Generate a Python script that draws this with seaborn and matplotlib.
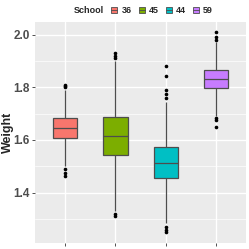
import pandas as pd
import seaborn as sns
import matplotlib.pyplot as plt
from matplotlib.patches import Patch
from matplotlib.lines import Line2D
from matplotlib.legend_handler import HandlerTuple

# values per school (sorted), chosen to reproduce the box stats of the picture
schools = ['36', '45', '44', '59']
colors = ['#F8766D', '#7CAE00', '#00BFC4', '#C77CFF']
w_36 = [1.465, 1.475, 1.49, 1.50, 1.55, 1.607, 1.62, 1.63, 1.635, 1.64, 1.645,
        1.65, 1.66, 1.67, 1.675, 1.682, 1.72, 1.79, 1.80, 1.805, 1.81]
w_45 = [1.31, 1.32, 1.33, 1.45, 1.50, 1.542, 1.56, 1.58, 1.60, 1.61, 1.614,
        1.63, 1.65, 1.67, 1.68, 1.686, 1.75, 1.90, 1.91, 1.92, 1.93]
w_44 = [1.25, 1.26, 1.27, 1.284, 1.35, 1.42, 1.456, 1.47, 1.48, 1.49, 1.50, 1.505, 1.511,
        1.52, 1.53, 1.54, 1.55, 1.56, 1.573, 1.745, 1.76, 1.775, 1.79, 1.843, 1.882]
w_59 = [1.65, 1.675, 1.685, 1.69, 1.75, 1.796, 1.81, 1.82, 1.825, 1.83, 1.832,
        1.84, 1.85, 1.855, 1.86, 1.867, 1.92, 1.97, 1.98, 1.99, 2.01]

df = pd.concat([pd.DataFrame({'School': s, 'Weight': w})
                for s, w in zip(schools, [w_36, w_45, w_44, w_59])], ignore_index=True)

sns.set_style('darkgrid', {'axes.facecolor': '#EBEBEB', 'grid.color': 'white'})
plt.rcParams['font.family'] = ['Liberation Sans', 'DejaVu Sans']

fig = plt.figure(figsize=(2.49, 2.49), dpi=100)
ax = fig.add_axes([0.141, 0.024, 0.847, 0.888])
sns.boxplot(data=df, x='School', y='Weight', hue='School', order=schools, hue_order=schools,
            palette=dict(zip(schools, colors)), width=0.48, linecolor='#4D4D4D', linewidth=0.9,
            showcaps=False,
            fliersize=1.6, flierprops={'marker': 'o', 'markerfacecolor': 'black',
                                       'markeredgecolor': 'black'},
            legend=False, saturation=1, ax=ax)

ax.set_xlim(-0.6, 3.6)
ax.set_ylim(1.209, 2.048)
ax.set_yticks([1.4, 1.6, 1.8, 2.0])
ax.set_yticks([1.3, 1.5, 1.7, 1.9], minor=True)
ax.grid(True, which='major', color='white', linewidth=1.0)
ax.grid(True, which='minor', axis='y', color='white', linewidth=0.5)
ax.set_axisbelow(True)
for s in ax.spines.values():
    s.set_visible(False)
ax.set_xticks(range(4))
ax.set_xticklabels([])
ax.set_xlabel('')
ax.tick_params(axis='both', which='major', length=2.5, width=0.6, color='#333333', bottom=True, left=True)
ax.tick_params(axis='y', which='minor', length=0)
ax.tick_params(axis='y', labelsize=8.5, labelcolor='#4D4D4D', pad=1.5)
for t in ax.get_yticklabels():
    t.set_fontweight('bold')
ax.set_ylabel('Weight', fontsize=9, fontweight='bold')
ax.yaxis.set_label_coords(-0.1, 0.5)

handles = [Patch(facecolor='none', edgecolor='none')] + \
          [(Patch(facecolor=c, edgecolor='#4D4D4D', linewidth=0.6),
            Line2D([], [], color='#4D4D4D', linewidth=0.6)) for c in colors]
labels = ['School'] + schools
leg = fig.legend(handles, labels, loc='center', bbox_to_anchor=(0.556, 0.957), ncol=5,
                 frameon=False, fontsize=6.5, handlelength=0.65, handleheight=0.7,
                 handletextpad=0.45, columnspacing=0.8, borderaxespad=0,
                 handler_map={tuple: HandlerTuple(ndivide=1)})
for t in leg.get_texts():
    t.set_fontweight('bold')

fig.savefig('out.png', dpi=100)
